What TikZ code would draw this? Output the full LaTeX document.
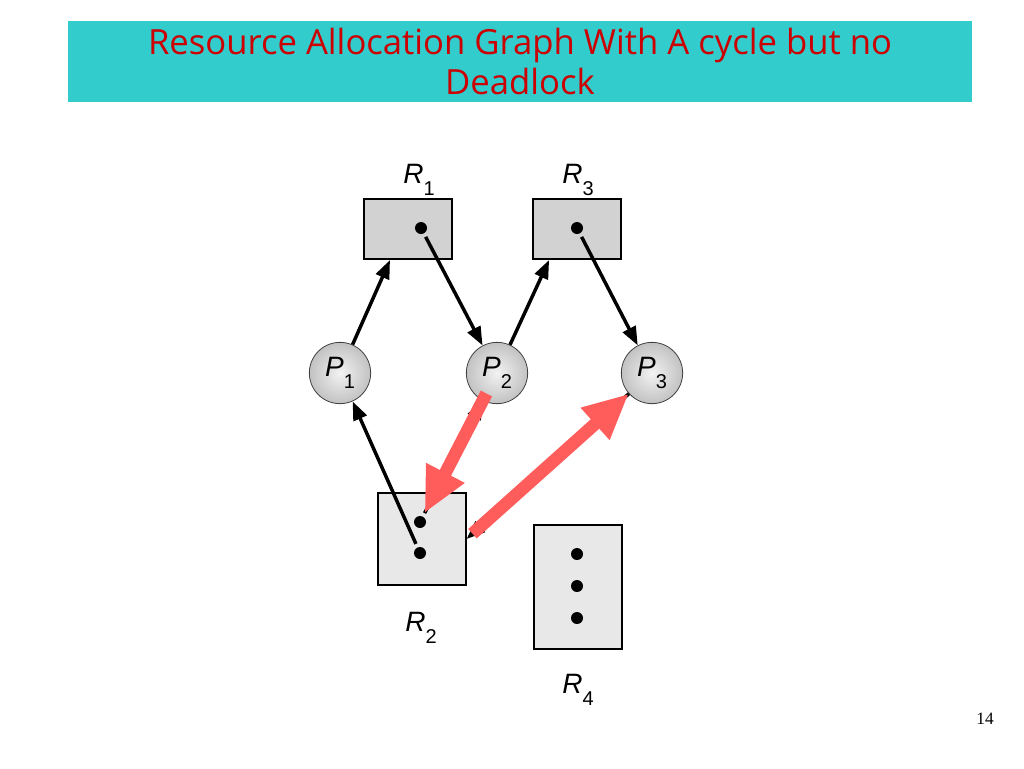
\documentclass[tikz,border=0pt]{standalone}
\usepackage{fontspec}
\setmainfont{Liberation Sans}
\newfontfamily\titlefont{Open Sans}
\newfontfamily\pagefont{Liberation Serif}
\usetikzlibrary{arrows.meta,calc,positioning}
\definecolor{banner}{RGB}{51,204,204}
\definecolor{titlered}{RGB}{204,0,0}
\definecolor{overlay}{RGB}{255,92,92}
\newcommand\glab[2]{\textit{#1}\raisebox{-0.42em}{\fontsize{15}{15}\selectfont #2}}
\tikzset{
    >={Triangle[length=14pt,width=10.5pt]},
    resbox/.style={
        rectangle,
        draw=black, line width=1.5pt,
        fill=gray!35,
        minimum width=66pt,
        minimum height=45pt,
        inner sep=0pt
    },
    lightbox/.style={resbox, fill=gray!18},
    proc/.style={
        circle,
        draw=black!75, line width=0.6pt,
        shading=radial, inner color=gray!10, outer color=gray!48,
        minimum size=46pt,
        inner sep=0pt
    },
    dot/.style={circle, fill=black, minimum size=9pt, inner sep=0pt, outer sep=3pt},
    edge/.style={draw, line width=2.6pt, ->},
    hot/.style={draw=overlay, line width=9.5pt, -{Triangle[length=34pt,width=30pt]}},
}
\begin{document}
\begin{tikzpicture}
[
    x=0.75pt, y=-0.75pt,
    every node/.style={font=\fontsize{21}{21}\selectfont},
]
\useasboundingbox (0,0) rectangle (1024,768);
% title banner
\node(title) at (520,61.5)[fill=banner, minimum width=678pt, minimum height=60.75pt, align=center,
    text=titlered, font=\titlefont\fontsize{26}{30}\selectfont]{Resource Allocation Graph With A cycle but no\\Deadlock};
% resources
\node(R1) at (408,229)[resbox]{};
\node(R3) at (577,229)[resbox]{};
\node(R2) at (421.5,539)[lightbox, minimum height=69pt]{};
\node(R4) at (578,587)[lightbox, minimum height=93pt]{};
\node(d1) at (421,228)[dot]{};
\node(d3) at (577,228)[dot]{};
\node(d2a) at (420,522)[dot]{};
\node(d2b) at (420,553)[dot]{};
\node(d4a) at (577,554)[dot]{};
\node(d4b) at (577,586)[dot]{};
\node(d4c) at (577,618)[dot]{};
\node(lR1) at (419,180){\glab{R}{1}};
\node(lR3) at (578,180){\glab{R}{3}};
\node(lR2) at (421,628){\glab{R}{2}};
\node(lR4) at (578,690){\glab{R}{4}};
% processes
\node(P1) at (340,373)[proc]{\glab{P}{1}};
\node(P2) at (497,373)[proc]{\glab{P}{2}};
\node(P3) at (652,373)[proc]{\glab{P}{3}};
% edges
\draw[edge] (P1) -- ($(R1.south west)!0.3!(R1.south east)$);
\draw[edge] (d1) -- (P2);
\draw[edge] (P2) -- ($(R3.south west)!0.19!(R3.south east)$);
\draw[edge] (d3) -- (P3);
\draw[edge] (d2b) -- (P1);
\draw[edge] (d2a) -- (P2);
\draw[edge] (P3) -- (R2.east);
\draw[hot, shorten <=-6pt] (P2) -- (d2a);
\draw[hot, shorten <=6pt] (R2.east) -- (P3);
\node(page) at (985,719)[font=\pagefont\fontsize{13}{13}\selectfont]{14};
\end{tikzpicture}
\end{document}
